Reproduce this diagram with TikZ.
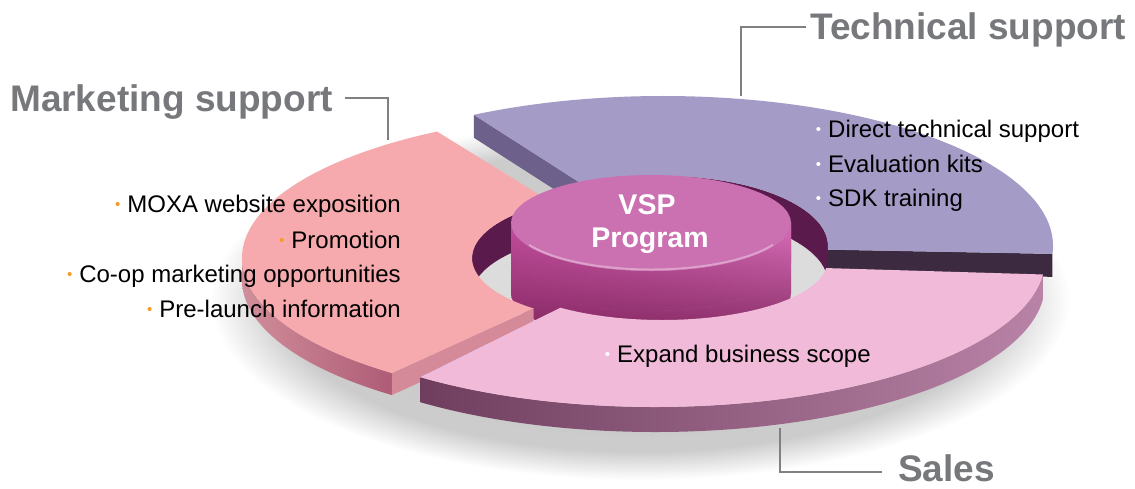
\documentclass[tikz,border=0pt]{standalone}
\usepackage{fontspec}
\setmainfont{Liberation Sans}
\usetikzlibrary{calc,fadings}
\definecolor{mktop}{HTML}{F6AAAD}
\definecolor{mkside1}{HTML}{D08E9A}
\definecolor{mkside2}{HTML}{AF5C77}
\definecolor{mkcut}{HTML}{D48A98}
\definecolor{tetop}{HTML}{A49CC6}
\definecolor{tecutl}{HTML}{6D618B}
\definecolor{tecutr}{HTML}{3B2A40}
\definecolor{satop}{HTML}{F0BAD8}
\definecolor{saside1}{HTML}{6F3E5E}
\definecolor{saside2}{HTML}{6C3B5A}
\definecolor{saside3}{HTML}{B883A6}
\definecolor{wallc}{HTML}{5B1A4C}
\definecolor{floorc}{HTML}{DCDCDC}
\definecolor{cyl1}{HTML}{C24E9D}
\definecolor{cyl2}{HTML}{8A2866}
\definecolor{cyl3}{HTML}{D86DB8}
\definecolor{cyldark}{HTML}{6A1648}
\definecolor{cyltop}{HTML}{CB70B0}
\definecolor{titlegray}{HTML}{77787C}
\definecolor{leadgray}{HTML}{808080}
\definecolor{borange}{HTML}{F39A27}
\pgfdeclareradialshading{ringshadow}{\pgfpoint{0bp}{0bp}}{color(0bp)=(black!22); color(21bp)=(black!20); color(25bp)=(white); color(50bp)=(white)}
\newcommand\obul{\llap{\textcolor{borange}{\fontsize{15}{15}\selectfont\raisebox{3pt}{•}}\hspace{7pt}}}
\newcommand\wbul{\llap{\textcolor{white}{\fontsize{15}{15}\selectfont\raisebox{3pt}{•}}\hspace{7pt}}}
\tikzset{
  title/.style={font=\fontsize{37}{40}\selectfont\bfseries, text=titlegray, inner sep=0pt},
  body/.style={font=\fontsize{24}{26}\selectfont, text=black, inner sep=0pt},
  vsp/.style={font=\fontsize{28.5}{30}\selectfont\bfseries, text=white, inner sep=0pt},
  leader/.style={draw=leadgray, line width=1.3pt},
  cylshade/.style={left color=cyl1, middle color=cyl2, right color=cyl3}
}
\begin{document}
\begin{tikzpicture}[x=1pt,y=1pt]
\useasboundingbox (0,0) rectangle (1135,488);
\fill[white] (0,0) rectangle (1135,488);
\coordinate (T) at (663,242);
\coordinate (M) at (632,230);
\coordinate (S) at (655,229);
\coordinate (Si) at (662,226);
\coordinate (Ct) at (651,265);
\coordinate (Cb) at (651,225);
\coordinate (Cf) at (651,195);
% shadow and floor
\shade[shading=ringshadow] (640,188) ellipse [x radius=430, y radius=180];
\fill[floorc] (651,215) ellipse [x radius=200, y radius=80];
% inner walls
\fill[wallc] ($(T)+(-3:165 and 70)$) arc[start angle=-3,end angle=119,x radius=165,y radius=70] -- ++(0,-37) arc[start angle=119,end angle=-3,x radius=165,y radius=70] -- cycle;
\fill[wallc] ($(M)+(120:160 and 64)$) arc[start angle=120,end angle=180,x radius=160,y radius=64] -- ++(0,-37) arc[start angle=180,end angle=120,x radius=160,y radius=64] -- cycle;
% full cylinder
\shade[cylshade] ($(Cf)+(180:140 and 48)$) arc[start angle=180,end angle=360,x radius=140,y radius=48] -- ($(Ct)+(0:140 and 48)$) arc[start angle=0,end angle=-180,x radius=140,y radius=48] -- cycle;
\fill[cyldark, path fading=north, opacity=.75] ($(Cf)+(180:140 and 48)$) arc[start angle=180,end angle=360,x radius=140,y radius=48] -- ($(Ct)+(0:140 and 48)$) arc[start angle=0,end angle=-180,x radius=140,y radius=48] -- cycle;
% technical
\fill[tecutl] ($(T)+(119:390 and 150)$) -- ($(T)+(119:165 and 70)$) -- ++(0,-23) -- ($(T)+(119:390 and 150)+(0,-23)$) -- cycle;
\fill[tecutr] ($(T)+(-3:390 and 150)$) -- ($(T)+(-3:165 and 70)$) -- ++(0,-23) -- ($(T)+(-3:390 and 150)+(0,-23)$) -- cycle;
\fill[tetop] ($(T)+(-3:390 and 150)$) arc[start angle=-3,end angle=119,x radius=390,y radius=150] -- ($(T)+(119:165 and 70)$) arc[start angle=119,end angle=-3,x radius=165,y radius=70] -- cycle;
% marketing
\shade[left color=mkside1, right color=mkside2] ($(M)+(180:390 and 146)$) arc[start angle=180,end angle=232,x radius=390,y radius=146] -- ++(0,-22) arc[start angle=232,end angle=180,x radius=390,y radius=146] -- cycle;
\fill[mkcut] ($(M)+(232:390 and 146)$) -- ($(M)+(232:160 and 64)$) -- ++(0,-22) -- ($(M)+(232:390 and 146)+(0,-22)$) -- cycle;
\fill[mktop] ($(M)+(120:390 and 146)$) arc[start angle=120,end angle=232,x radius=390,y radius=146] -- ($(M)+(232:160 and 64)$) arc[start angle=232,end angle=120,x radius=160,y radius=64] -- cycle;
% sales
\shade[left color=saside1, middle color=saside2, right color=saside3] ($(S)+(233:390 and 148)$) arc[start angle=233,end angle=354,x radius=390,y radius=148] -- ++(0,-25) arc[start angle=354,end angle=233,x radius=390,y radius=148] -- cycle;
\fill[satop] ($(S)+(233:390 and 148)$) arc[start angle=233,end angle=354,x radius=390,y radius=148] -- ($(Si)+(354:165 and 58)$) arc[start angle=354,end angle=232,x radius=165,y radius=58] -- cycle;
% cylinder above the ring
\shade[cylshade] ($(Cb)+(180:140 and 48)$) arc[start angle=180,end angle=360,x radius=140,y radius=48] -- ($(Ct)+(0:140 and 48)$) arc[start angle=0,end angle=-180,x radius=140,y radius=48] -- cycle;
\begin{scope}
\clip ($(Cb)+(180:140 and 48)$) arc[start angle=180,end angle=360,x radius=140,y radius=48] -- ($(Ct)+(0:140 and 48)$) arc[start angle=0,end angle=-180,x radius=140,y radius=48] -- cycle;
\fill[cyldark, path fading=north, opacity=.75] ($(Cf)+(180:140 and 48)$) arc[start angle=180,end angle=360,x radius=140,y radius=48] -- ($(Ct)+(0:140 and 48)$) arc[start angle=0,end angle=-180,x radius=140,y radius=48] -- cycle;
\end{scope}
\fill[cyltop] (Ct) ellipse [x radius=140, y radius=48];
\draw[white, opacity=.35, line width=2pt] ($(Ct)+(208:138 and 46.5)$) arc[start angle=208,end angle=332,x radius=138,y radius=46.5];
% titles and leaders
\node[title, anchor=base west] (mkt) at (10,376) {Marketing support};
\node[title, anchor=base west] (tech) at (810,448.5) {Technical support};
\node[title, anchor=base west] (sales) at (898,7) {Sales};
\coordinate (mktA) at (345,390);
\coordinate (mktB) at (388,348);
\coordinate (techA) at (806,461);
\coordinate (techB) at (741,392);
\coordinate (salesA) at (780,60);
\coordinate (salesB) at (882,16);
\draw[leader] (mktA) -| (mktB);
\draw[leader] (techA) -| (techB);
\draw[leader] (salesA) |- (salesB);
% VSP
\node[vsp, anchor=base] (vsp1) at (647,273) {VSP};
\node[vsp, anchor=base] (vsp2) at (650,240.7) {Program};
% bullet texts
\node[body, anchor=base east] (m1) at (401,275) {\obul MOXA website exposition};
\node[body, anchor=base east] (m2) at (401,240) {\obul Promotion};
\node[body, anchor=base east] (m3) at (401,205.5) {\obul Co-op marketing opportunities};
\node[body, anchor=base east] (m4) at (401,171) {\obul Pre-launch information};
\node[body, anchor=base west] (t1) at (828,350.3) {\wbul Direct technical support};
\node[body, anchor=base west] (t2) at (828,315.3) {\wbul Evaluation kits};
\node[body, anchor=base west] (t3) at (828,281) {\wbul SDK training};
\node[body, anchor=base west] (s1) at (617,126) {\wbul Expand business scope};
\end{tikzpicture}
\end{document}
